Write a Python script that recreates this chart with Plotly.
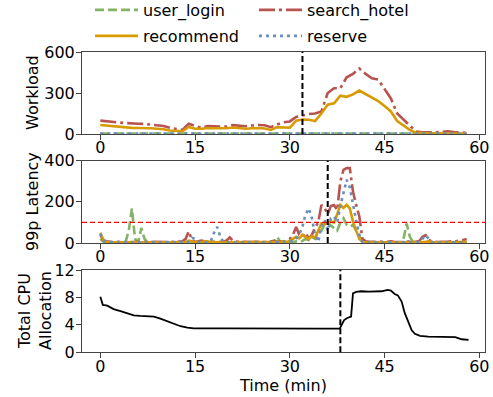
import numpy as np
import plotly.graph_objects as go
from plotly.subplots import make_subplots

# ---------------- data ----------------
# workload sampled once per minute
wl_time = list(range(0, 59))
wl_user_login = [4, 3, 3, 4, 3, 3, 4, 3, 3, 4, 3, 3, 4, 3, 3, 4, 3, 3, 4, 3,
                 3, 4, 3, 3, 4, 3, 3, 4, 3, 3, 4, 3, 3, 4, 3, 3, 4, 3, 3, 4,
                 3, 3, 4, 3, 3, 4, 3, 3, 4, 3, 3, 4, 3, 3, 4, 3, 3, 4, 3]
wl_recommend = [66, 62, 55, 50, 45, 45, 44, 44, 42, 38, 35, 26, 22, 20, 52, 38, 38, 44, 42, 42,
                42, 48, 44, 38, 42, 44, 40, 30, 50, 48, 46, 98, 106, 104, 95, 150, 215, 225, 280, 272,
                290, 318, 290, 262, 240, 205, 165, 95, 62, 30, 8, 5, 5, 6, 5, 4, 5, 4, 4]
wl_search_hotel = [98, 95, 90, 84, 80, 76, 75, 74, 70, 64, 58, 45, 35, 30, 75, 58, 45, 58, 55, 53,
                   54, 65, 62, 57, 62, 66, 64, 50, 70, 85, 92, 125, 135, 146, 150, 165, 300, 335, 335, 415,
                   440, 480, 440, 408, 398, 330, 260, 150, 105, 60, 18, 12, 10, 12, 15, 20, 15, 12, 8]
wl_reserve = [3, 3, 2, 3, 3, 2, 3, 3, 2, 3, 3, 2, 3, 3, 2, 3, 3, 2, 3, 3,
              2, 3, 3, 2, 3, 3, 2, 3, 3, 2, 3, 3, 2, 3, 3, 2, 3, 3, 2, 3,
              3, 2, 3, 3, 2, 3, 3, 2, 3, 3, 2, 3, 3, 2, 3, 3, 2, 3, 3]

# 99th percentile latency sampled every 30 s
lat_time = [i * 0.5 for i in range(117)]
lat_user_login = [20, 5, 3, 2, 3, 2, 3, 2, 5, 60,
                  168, 20, 5, 73, 20, 3, 2, 3, 2, 3,
                  2, 3, 2, 3, 2, 3, 2, 3, 2, 3,
                  2, 3, 2, 3, 2, 3, 2, 3, 2, 3,
                  2, 3, 2, 3, 2, 3, 2, 3, 2, 3,
                  2, 3, 2, 3, 2, 3, 30, 5, 3, 2,
                  3, 5, 8, 5, 10, 20, 15, 30, 20, 60,
                  60, 90, 100, 85, 72, 60, 100, 120, 88, 80,
                  88, 60, 35, 5, 3, 2, 3, 2, 3, 2,
                  3, 2, 3, 2, 3, 2, 20, 95, 30, 5,
                  3, 2, 3, 2, 3, 2, 3, 2, 3, 2,
                  3, 2, 3, 2, 3, 2, 3]
lat_recommend = [50, 15, 5, 4, 4, 4, 3, 4, 4, 3,
                 4, 4, 3, 3, 4, 3, 3, 4, 4, 3,
                 3, 4, 3, 3, 4, 3, 3, 4, 12, 8,
                 4, 5, 4, 8, 6, 4, 5, 4, 4, 3,
                 4, 6, 5, 4, 3, 4, 3, 4, 4, 3,
                 4, 3, 4, 4, 3, 5, 4, 6, 8, 5,
                 10, 18, 30, 22, 40, 28, 20, 35, 25, 60,
                 95, 90, 100, 104, 100, 140, 185, 170, 185, 168,
                 104, 60, 20, 5, 4, 4, 3, 4, 3, 4,
                 3, 4, 4, 3, 4, 5, 4, 3, 4, 3,
                 4, 4, 3, 6, 8, 5, 4, 4, 3, 4,
                 3, 4, 4, 3, 4, 5, 6]
lat_search_hotel = [40, 12, 8, 6, 5, 6, 5, 6, 5, 4,
                    5, 6, 5, 6, 5, 4, 5, 6, 5, 5,
                    6, 5, 5, 6, 6, 5, 8, 20, 57, 15,
                    6, 8, 12, 8, 6, 5, 6, 5, 7, 6,
                    12, 27, 10, 6, 5, 6, 5, 6, 5, 6,
                    5, 6, 5, 6, 8, 10, 6, 8, 6, 12,
                    20, 40, 78, 40, 30, 50, 20, 40, 75, 100,
                    185, 170, 140, 180, 185, 160, 300, 355, 364, 364,
                    250, 185, 130, 20, 8, 6, 5, 6, 8, 6,
                    5, 6, 8, 6, 5, 6, 5, 6, 8, 6,
                    6, 10, 30, 38, 15, 8, 6, 5, 6, 5,
                    6, 8, 6, 10, 12, 15, 20]
lat_reserve = [45, 15, 4, 3, 3, 2, 3, 2, 3, 2,
               3, 2, 3, 3, 2, 3, 2, 3, 3, 2,
               3, 2, 3, 2, 3, 3, 2, 3, 5, 25,
               20, 5, 3, 2, 3, 10, 50, 78, 30, 5,
               3, 2, 3, 3, 2, 3, 2, 3, 3, 2,
               3, 2, 3, 3, 2, 3, 4, 3, 5, 8,
               8, 10, 20, 40, 80, 140, 168, 120, 40, 5,
               80, 110, 60, 120, 130, 100, 180, 250, 307, 270,
               180, 110, 40, 5, 3, 2, 3, 2, 3, 2,
               3, 2, 3, 3, 2, 3, 2, 3, 3, 2,
               3, 5, 20, 38, 20, 5, 3, 2, 3, 3,
               2, 3, 3, 2, 3, 3, 4]

# total CPU allocation
cpu_time = [0, 0.4, 1.1, 2.1, 3.2, 4.2, 5.3, 6.3, 7.7, 8.5, 9.5, 10.6, 11.6, 12.7, 13.8,
            14.8, 20, 25, 30, 35, 37.9, 38.6, 39.1, 39.7, 40.0, 40.5, 41.3, 42.5, 44.5,
            45.5, 46.0, 46.6, 47.1, 47.7, 48.2, 48.7, 49.3, 49.8, 50.6, 51.9, 54.0, 54.6,
            56.2, 57.2, 58.3]
cpu_alloc = [8.1, 6.9, 6.8, 6.3, 6.0, 5.7, 5.4, 5.3, 5.3, 5.2, 4.9, 4.5, 4.1, 3.8, 3.6,
             3.5, 3.5, 3.45, 3.45, 3.45, 3.45, 4.7, 5.0, 5.2, 8.6, 8.8, 8.9, 8.85, 8.9,
             9.1, 9.0, 8.5, 8.3, 7.4, 5.7, 4.5, 3.2, 2.7, 2.4, 2.3, 2.3, 2.2,
             2.2, 1.9, 1.8]

# event markers (minutes) per panel and latency SLO
event_workload = 32.0
event_latency = 36.0
event_cpu = 38.0
slo_latency = 100

x_ticks = [0, 15, 30, 45, 60]
y_ticks_workload = [0, 300, 600]
y_ticks_latency = [0, 200, 400]
y_ticks_cpu = [0, 4, 8, 12]

# ---------------- styling ----------------
W, H = 493, 397
FONT = "DejaVu Sans"
FS = 16
AXIS_COLOR = "#444444"

styles = {
    "user_login": dict(color="#82b366", dash="9px,4px"),
    "recommend": dict(color="#d79b00", dash="solid"),
    "search_hotel": dict(color="#b85450", dash="16px,4px,3px,4px"),
    "reserve": dict(color="#6c8ebf", dash="3px,4px"),
}
LW = 2.6

fig = make_subplots(rows=3, cols=1)

workload = {"user_login": wl_user_login, "recommend": wl_recommend,
            "search_hotel": wl_search_hotel, "reserve": wl_reserve}
latency = {"user_login": lat_user_login, "recommend": lat_recommend,
           "search_hotel": lat_search_hotel, "reserve": lat_reserve}
legend_of = {"user_login": "legend", "search_hotel": "legend",
             "recommend": "legend2", "reserve": "legend2"}

for name in ["user_login", "search_hotel", "recommend", "reserve"]:
    st = styles[name]
    fig.add_trace(go.Scatter(x=wl_time, y=workload[name], mode="lines", name=name,
                             line=dict(color=st["color"], dash=st["dash"], width=LW),
                             legend=legend_of[name], showlegend=True), row=1, col=1)
for name in ["user_login", "search_hotel", "recommend", "reserve"]:
    st = styles[name]
    fig.add_trace(go.Scatter(x=lat_time, y=latency[name], mode="lines", name=name,
                             line=dict(color=st["color"], dash=st["dash"], width=LW),
                             showlegend=False), row=2, col=1)

fig.add_trace(go.Scatter(x=cpu_time, y=cpu_alloc, mode="lines", name="cpu",
                         line=dict(color="black", width=1.8), showlegend=False), row=3, col=1)

# SLO line
fig.add_shape(type="line", xref="x2 domain", yref="y2", x0=0, x1=1, y0=slo_latency, y1=slo_latency,
              line=dict(color="red", width=1.4, dash="5px,3px"))
# event markers
for ax, t in [("", event_workload), ("2", event_latency), ("3", event_cpu)]:
    fig.add_shape(type="line", xref="x" + ax, yref=("y" + ax + " domain"), x0=t, x1=t, y0=0, y1=1,
                  line=dict(color="black", width=2, dash="6px,3px"))

xdom = [82 / W, 485 / W]
ydoms = [[1 - 134 / H, 1 - 52 / H], [1 - 243 / H, 1 - 160.7 / H], [1 - 352.3 / H, 1 - 270 / H]]
yranges = [[0, 600], [0, 400], [0, 12]]
yticks = [y_ticks_workload, y_ticks_latency, y_ticks_cpu]

axis_common = dict(showline=True, linecolor=AXIS_COLOR, linewidth=1, mirror=True,
                   ticks="outside", ticklen=5, tickwidth=1, tickcolor=AXIS_COLOR,
                   showgrid=False, zeroline=False, automargin=False,
                   tickfont=dict(family=FONT, size=FS, color="black"))
for i in range(3):
    sfx = "" if i == 0 else str(i + 1)
    fig.layout["xaxis" + sfx].update(domain=xdom, range=[-2.9, 60.9], tickvals=x_ticks,
                                     anchor="y" + sfx, ticklabelstandoff=-6, **axis_common)
    fig.layout["yaxis" + sfx].update(domain=ydoms[i], range=yranges[i], tickvals=yticks[i],
                                     anchor="x" + sfx, ticklabelstandoff=-2, **axis_common)

annots = [
    dict(text="Workload", x=32 / W, y=1 - 93 / H),
    dict(text="99p Latency", x=32 / W, y=1 - 202 / H),
    dict(text="Total CPU<br>Allocation", x=35 / W, y=1 - 311 / H),
]
for a in annots:
    fig.add_annotation(text=a["text"], x=a["x"], y=a["y"], xref="paper", yref="paper",
                       textangle=-90, showarrow=False, xanchor="center", yanchor="middle",
                       font=dict(family=FONT, size=FS, color="black"))
fig.add_annotation(text="Time (min)", x=283 / W, y=1 - 385 / H, xref="paper", yref="paper",
                   showarrow=False, xanchor="center", yanchor="middle",
                   font=dict(family=FONT, size=FS, color="black"))

legend_common = dict(orientation="h", xanchor="left", yanchor="middle",
                     entrywidth=106, entrywidthmode="pixels", itemwidth=43,
                     bgcolor="rgba(0,0,0,0)", borderwidth=0,
                     font=dict(family=FONT, size=FS, color="black"))
fig.update_layout(
    width=W, height=H, autosize=False,
    margin=dict(l=0, r=0, t=0, b=0, autoexpand=False),
    paper_bgcolor="white", plot_bgcolor="white",
    legend=dict(x=90 / W, y=1 - 10 / H, **legend_common),
    legend2=dict(x=90 / W, y=1 - 36 / H, **legend_common),
)

fig.write_html("out.html")
